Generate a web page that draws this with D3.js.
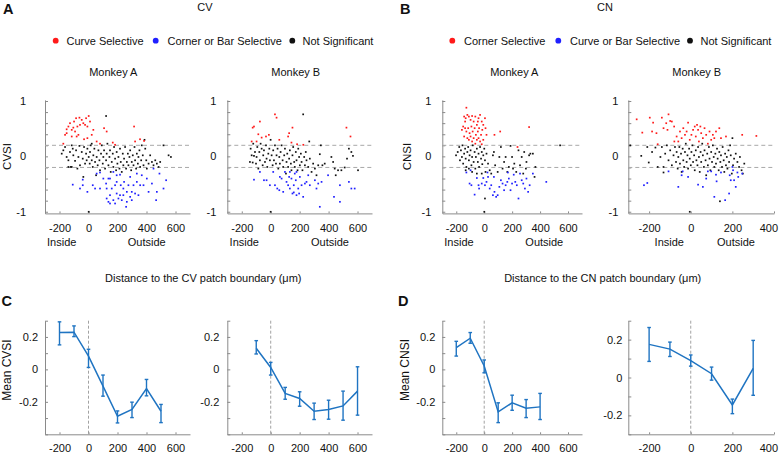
<!DOCTYPE html>
<html><head><meta charset="utf-8">
<script src="https://cdn.jsdelivr.net/npm/d3@7"></script>
<style>body{margin:0;background:#fff}svg{display:block}</style>
</head><body>
<svg id="c" width="779" height="454"></svg>
<script>
// ---------------- DATA ----------------
// Panel A (CV), Monkey A scatter: [distance µm, CVSI]
const cvA_curve = [[-162,0.39],[-151,0.42],[-139,0.54],[-128,0.60],[-116,0.48],[-105,0.52],[-100,0.63],[-86,0.69],[-82,0.36],[-70,0.39],[-63,0.70],[-59,0.57],[-47,0.66],[-36,0.60],[-24,0.57],[-17,0.69],[-8,0.54],[1,0.73],[10,0.63],[22,0.39],[33,0.48],[56,0.27],[79,0.23],[107,0.51],[125,0.45],[167,0.25],[183,0.21],[314,0.54],[321,0.27],[355,0.31],[383,0.28],[-116,0.36],[-93,0.45],[-77,0.54],[-31,0.31],[-8,0.33],[-151,0.49],[-174,0.23]];
const cvA_cornerBar = [[-109,-0.51],[-40,-0.42],[-40,-0.52],[-8,-0.64],[29,-0.52],[56,-0.31],[79,-0.29],[102,-0.40],[121,-0.49],[125,-0.76],[137,-0.82],[148,-0.70],[160,-0.58],[171,-0.79],[183,-0.85],[194,-0.67],[206,-0.76],[217,-0.70],[229,-0.79],[240,-0.58],[245,-0.46],[259,-0.91],[264,-0.82],[275,-0.52],[287,-0.37],[298,-0.64],[310,-0.52],[321,-0.67],[333,-0.46],[344,-0.70],[356,-0.52],[379,-0.52],[402,-0.40],[414,-0.64],[437,-0.49],[448,-0.22],[466,-0.79],[471,-0.64],[489,-0.31],[517,-0.58],[535,-0.43],[171,-0.28],[194,-0.34],[217,-0.33],[148,-0.40],[79,-0.58],[45,-0.58],[-59,-0.58],[240,-0.70],[298,-0.79],[264,-0.64],[287,-0.73],[222,-0.52],[183,-0.52],[137,-0.40],[333,-0.31],[367,-0.34],[194,-0.46],[125,-0.58],[148,-0.85]];
const cvA_ns = [[-185,0.05],[-174,0.11],[-162,0.17],[-151,-0.01],[-139,-0.07],[-128,0.08],[-123,-0.19],[-116,0.2],[-109,0.14],[-105,0.02],[-93,-0.08],[-86,0.11],[-77,-0.22],[-70,-0.01],[-63,0.19],[-59,-0.16],[-47,0.08],[-40,-0.04],[-36,-0.37],[-31,0.17],[-24,-0.13],[-17,0.05],[-13,-0.07],[-8,0.14],[1,-0.01],[8,-0.13],[10,0.08],[15,0.2],[22,-0.07],[29,-0.19],[33,0.02],[40,0.14],[45,-0.10],[52,-0.34],[56,-0.01],[63,-0.16],[68,0.11],[75,-0.07],[79,-0.25],[86,0.05],[91,0.2],[98,-0.13],[102,-0.01],[107,0.11],[114,-0.22],[121,-0.07],[125,0.05],[130,0.23],[137,-0.16],[144,-0.01],[148,0.11],[153,-0.28],[160,-0.10],[167,0.05],[171,-0.19],[176,0.17],[183,-0.04],[190,-0.25],[194,0.08],[199,-0.13],[206,-0.01],[213,-0.22],[217,0.14],[222,-0.10],[229,-0.28],[236,0.05],[240,-0.16],[245,-0.04],[252,0.17],[259,-0.22],[264,-0.10],[271,0.05],[275,-0.16],[282,-0.01],[287,0.11],[294,-0.25],[298,-0.10],[305,0.02],[310,-0.16],[317,0.17],[321,-0.07],[328,-0.22],[333,0.05],[340,-0.13],[344,-0.01],[351,0.11],[356,-0.19],[363,-0.07],[367,0.20],[374,0.02],[379,-0.16],[386,0.30],[391,0.14],[398,-0.07],[402,-0.22],[414,-0.13],[425,0.02],[437,-0.10],[448,-0.16],[460,-0.07],[471,-0.13],[483,-0.19],[494,-0.10],[517,0.20],[552,0.02],[568,-0.01],[121,0.73],[1,-1.0],[22,0.23],[-116,-0.19],[-139,-0.19]];

// Panel A (CV), Monkey B scatter
const cvB_curve = [[-125,0.52],[-116,0.54],[-75,0.63],[-86,0.40],[-63,0.34],[-33,0.36],[-13,0.39],[29,0.76],[40,0.70],[59,0.30],[120,0.36],[150,0.52],[143,0.25],[182,0.22],[225,0.21],[523,0.52],[551,0.36],[-98,0.27],[-132,0.27],[127,0.42]];
const cvB_cornerBar = [[-116,-0.42],[-75,-0.28],[-47,-0.43],[-29,-0.43],[-6,-0.52],[17,-0.28],[29,-0.52],[45,-0.58],[59,-0.61],[63,-0.37],[75,-0.40],[86,-0.64],[98,-0.28],[109,-0.46],[120,-0.52],[127,-0.37],[132,-0.58],[143,-0.40],[150,-0.67],[159,-0.52],[166,-0.31],[173,-0.43],[178,-0.70],[190,-0.58],[196,-0.67],[201,-0.37],[213,-0.52],[224,-0.73],[236,-0.49],[247,-0.46],[259,-0.34],[270,-0.52],[305,-0.43],[316,-0.58],[328,-0.49],[339,-0.91],[351,-0.46],[396,-0.34],[437,-0.73],[478,-0.82],[478,-0.52],[540,-0.46],[557,-0.58],[580,-0.58],[159,-0.65],[132,-0.28],[178,-0.28]];
const cvB_ns = [[-139,0.14],[-132,0.02],[-125,-0.11],[-121,0.23],[-109,0.08],[-102,-0.13],[-98,-0.01],[-93,0.17],[-86,-0.22],[-79,0.08],[-75,-0.07],[-70,0.23],[-63,0.14],[-56,-0.16],[-52,0.02],[-47,0.11],[-40,-0.10],[-33,0.20],[-29,-0.04],[-24,-0.19],[-17,0.05],[-10,0.14],[-6,-0.07],[-1,0.30],[6,0.02],[13,-0.16],[17,0.11],[22,-0.07],[29,0.20],[36,-0.13],[40,0.02],[47,0.14],[52,-0.22],[59,-0.01],[63,-0.13],[68,0.08],[75,0.20],[82,-0.07],[86,-0.19],[93,0.02],[98,0.14],[105,-0.31],[109,-0.10],[114,0.05],[120,-0.19],[127,-0.04],[132,0.11],[139,-0.13],[143,-0.25],[150,0.02],[155,0.17],[162,-0.10],[166,-0.19],[173,0.08],[178,-0.07],[185,-0.25],[190,0.14],[196,-0.01],[201,-0.16],[208,0.05],[213,-0.10],[219,-0.25],[224,0.76],[231,-0.01],[236,-0.16],[242,0.08],[247,-0.07],[259,-0.19],[266,0.27],[270,-0.04],[282,-0.28],[293,-0.13],[305,-0.22],[316,-0.34],[328,-0.16],[339,0.04],[346,0.20],[357,-0.16],[373,-0.13],[419,-0.01],[431,-0.10],[442,-0.22],[449,-0.34],[465,-0.25],[488,-0.25],[511,-0.20],[527,-0.04],[540,0.14],[557,0.08],[568,0.01],[603,-0.25],[-1,-1.0],[-144,-0.10],[-116,0.01]];

// Panel B (CN), Monkey A scatter: [distance µm, CNSI]
const cnA_corner = [[-128,0.88],[-144,0.72],[-133,0.69],[-121,0.75],[-110,0.72],[-98,0.66],[-87,0.73],[-76,0.63],[-64,0.72],[-53,0.57],[-41,0.69],[-30,0.75],[-18,0.63],[-7,0.57],[5,0.69],[-160,0.48],[-151,0.54],[-137,0.51],[-128,0.45],[-115,0.51],[-105,0.42],[-92,0.54],[-83,0.45],[-69,0.51],[-60,0.39],[-46,0.45],[-37,0.51],[-23,0.39],[-14,0.48],[9,0.51],[16,0.39],[-121,0.33],[-110,0.30],[-98,0.36],[-87,0.27],[-76,0.33],[-64,0.23],[-53,0.30],[-41,0.33],[-30,0.27],[-18,0.22],[-7,0.30],[-144,0.36],[-137,0.63],[-46,0.63],[114,0.45],[73,0.39],[321,0.53],[238,0.17]];
const cnA_curveBar = [[-128,-0.29],[-98,-0.25],[-105,-0.49],[-92,-0.52],[-69,-0.69],[-53,-0.39],[-41,-0.52],[-37,-0.58],[-18,-0.49],[-7,-0.39],[5,-0.52],[16,-0.46],[27,-0.37],[39,-0.58],[50,-0.52],[62,-0.70],[73,-0.64],[85,-0.73],[96,-0.70],[108,-0.55],[119,-0.43],[131,-0.49],[142,-0.61],[153,-0.52],[165,-0.46],[176,-0.40],[188,-0.61],[199,-0.49],[211,-0.33],[222,-0.46],[233,-0.52],[245,-0.76],[256,-0.31],[268,-0.43],[279,-0.49],[291,-0.58],[302,-0.40],[314,-0.64],[325,-0.52],[348,-0.31],[444,-0.46],[169,-0.29],[69,-0.37],[23,-0.29]];
const cnA_ns = [[-202,0.02],[-190,0.08],[-179,0.17],[-174,-0.07],[-167,0.11],[-160,-0.01],[-156,0.20],[-151,-0.13],[-144,0.05],[-137,0.14],[-133,-0.04],[-128,-0.19],[-121,0.08],[-115,0.17],[-110,-0.07],[-105,0.02],[-98,0.11],[-92,-0.16],[-87,-0.01],[-83,0.20],[-76,-0.10],[-69,0.08],[-64,-0.22],[-60,-0.01],[-53,0.14],[-46,-0.10],[-41,0.05],[-37,-0.19],[-30,0.17],[-23,-0.04],[-18,0.08],[-14,-0.14],[-7,0.02],[0,0.14],[5,-0.07],[9,-0.28],[16,0.05],[27,-0.13],[39,-0.25],[50,-0.31],[62,0.02],[69,0.08],[78,-0.16],[96,-0.28],[108,-0.01],[119,0.17],[131,-0.22],[142,-0.10],[153,-0.01],[165,-0.28],[176,-0.19],[188,0.19],[199,-0.01],[206,-0.22],[215,-0.13],[229,-0.28],[245,0.11],[256,-0.16],[268,-0.01],[279,-0.31],[286,0.08],[298,-0.22],[302,-0.10],[321,0.02],[330,0.05],[348,0.05],[360,-0.37],[366,-0.19],[543,0.20],[0,-1.0],[5,-0.76],[-18,-0.31],[-53,-0.31],[-87,-0.28],[-110,-0.22],[-133,-0.25]];

// Panel B (CN), Monkey B scatter
const cnB_corner = [[-260,0.67],[-233,0.43],[-197,0.70],[-186,0.45],[-181,0.61],[-165,0.42],[-139,0.70],[-131,0.51],[-118,0.60],[-112,0.48],[-107,0.76],[-99,0.64],[-91,0.63],[-80,0.54],[-68,0.36],[-60,0.27],[-52,0.45],[-44,0.33],[-36,0.51],[-28,0.39],[-20,0.45],[-13,0.61],[-5,0.30],[3,0.39],[11,0.48],[19,0.54],[24,0.36],[30,0.57],[35,0.48],[39,0.27],[46,0.54],[50,0.42],[58,0.33],[66,0.51],[74,0.39],[82,0.23],[90,0.45],[98,0.30],[106,0.39],[113,0.33],[121,0.45],[137,0.51],[145,0.33],[169,0.36],[247,0.39],[315,0.37],[-79,0.27],[-159,0.22]];
const cnB_curveBar = [[-225,-0.52],[-209,-0.48],[-107,-0.27],[-60,-0.55],[-44,-0.34],[-39,-0.27],[-13,-0.37],[35,-0.51],[58,-0.55],[74,-0.40],[98,-0.27],[113,-0.73],[121,-0.33],[124,-0.45],[145,-0.29],[165,-0.79],[184,-0.67],[187,-0.34],[192,-0.43],[200,-0.19],[203,-0.25],[208,-0.43],[216,-0.55],[224,-0.29],[228,-0.37],[247,-0.31],[82,-0.27]];
const cnB_ns = [[-291,0.20],[-238,0.01],[-209,0.17],[-202,-0.11],[-186,0.08],[-170,0.16],[-146,-0.01],[-139,0.17],[-131,-0.29],[-123,0.05],[-115,0.20],[-107,-0.07],[-99,0.11],[-91,-0.16],[-83,0.02],[-76,0.17],[-71,-0.10],[-68,0.08],[-63,-0.22],[-60,-0.01],[-55,0.17],[-52,-0.13],[-47,0.05],[-44,-0.28],[-39,0.14],[-36,-0.07],[-32,-0.19],[-28,0.08],[-24,0.23],[-20,-0.10],[-16,0.02],[-13,-0.22],[-8,0.14],[-5,-0.04],[0,-0.16],[3,0.08],[8,0.20],[11,-0.10],[16,0.02],[19,-0.25],[24,0.11],[27,-0.07],[32,-0.16],[35,0.17],[39,-0.01],[43,-0.28],[47,0.08],[50,-0.10],[55,0.23],[58,0.02],[63,-0.19],[66,0.11],[71,-0.07],[74,-0.34],[79,0.05],[82,-0.16],[87,0.17],[90,-0.04],[94,-0.25],[98,0.08],[102,-0.10],[106,0.20],[110,-0.01],[113,-0.19],[118,0.05],[121,-0.13],[126,0.14],[129,-0.04],[134,-0.25],[137,0.08],[142,-0.10],[145,0.02],[150,-0.19],[153,0.17],[158,-0.07],[161,-0.28],[165,0.05],[169,-0.16],[173,-0.01],[176,-0.22],[181,0.11],[184,-0.10],[189,0.20],[192,0.02],[197,-0.31],[200,0.33],[203,-0.16],[208,-0.04],[216,0.05],[224,-0.10],[232,-0.19],[236,-0.01],[244,-0.25],[250,-0.31],[257,-0.13],[-5,-1.0],[140,-0.81],[-131,-0.19],[-159,-0.19]];

// Panel C: mean CVSI vs distance
const cvA_dist = [-200,-100,0,100,200,300,400,500];
const cvA_mean = [0.227,0.229,0.082,-0.103,-0.289,-0.247,-0.118,-0.258];
const cvA_lo   = [0.151,0.202,0.012,-0.165,-0.330,-0.297,-0.163,-0.328];
const cvA_hi   = [0.293,0.268,0.124,-0.035,-0.256,-0.202,-0.062,-0.216];
const cvB_dist = [-100,0,100,200,300,400,500,600];
const cvB_mean = [0.130,0.012,-0.148,-0.179,-0.258,-0.247,-0.225,-0.134];
const cvB_lo   = [0.095,-0.035,-0.184,-0.227,-0.309,-0.307,-0.313,-0.282];
const cvB_hi   = [0.177,0.043,-0.111,-0.138,-0.208,-0.190,-0.134,0.016];
// Panel D: mean CNSI vs distance
const cnA_dist = [-200,-100,0,100,200,300,400];
const cnA_mean = [0.134,0.192,0.021,-0.262,-0.206,-0.239,-0.231];
const cnA_lo   = [0.082,0.161,-0.021,-0.328,-0.252,-0.297,-0.309];
const cnA_hi   = [0.173,0.227,0.058,-0.206,-0.159,-0.186,-0.148];
const cnB_dist = [-200,-100,0,100,200,300];
const cnB_mean = [0.175,0.150,0.089,0.020,-0.145,0.048];
const cnB_lo   = [0.085,0.111,0.060,-0.014,-0.191,-0.094];
const cnB_hi   = [0.264,0.187,0.119,0.055,-0.114,0.196];

// Ticks / thresholds
const siThresholds = [0.2, -0.2];
const scatterYTicks = [-1,-0.8,-0.6,-0.4,-0.2,0,0.2,0.4,0.6,0.8,1];
const scatterYLabels = [-1,0,1];
const xTicks700 = [-200,0,200,400,600];
const xTicks400 = [-200,0,200,400];
const meanYTicksA = [-0.4,-0.3,-0.2,-0.1,0,0.1,0.2,0.3];
const meanYTicksB = [-0.3,-0.2,-0.1,0,0.1,0.2,0.3];
const meanYLabels = [-0.2,0,0.2];

// ---------------- DRAWING ----------------
const svg = d3.select('#c');
const FONT = '"Liberation Sans", Arial, Helvetica, sans-serif';
const AX = '#8a8a8a';
const RED = '#ff1a1a', BLUE = '#2020ff', BLACK = '#111';
const LINE = '#1f74c2';

function text(x, y, s, o = {}) {
  const t = svg.append('text').attr('x', x).attr('y', y).text(s)
    .attr('font-family', FONT).attr('font-size', o.size || 11)
    .attr('fill', o.fill || '#111')
    .attr('text-anchor', o.anchor || 'start');
  if (o.bold) t.attr('font-weight', 'bold');
  if (o.rot) t.attr('transform', `rotate(-90,${x},${y})`).attr('dominant-baseline', 'central');
  return t;
}
const near = (arr, d) => arr.some(v => Math.abs(v - d) < 1e-9);
const fmt = d => String(+d.toFixed(2));

function styleAxis(g) {
  g.select('.domain').attr('stroke', AX);
  g.selectAll('.tick line').attr('stroke', AX);
  g.selectAll('.tick text').attr('font-family', FONT).attr('font-size', 11).attr('fill', '#111');
}
// keep a tick label that would run past the right edge inside the picture
function keepInside(g) {
  g.selectAll('.tick text').each(function () {
    const b = this.getBBox();
    const m = this.parentNode.getCTM();
    const right = m.e + b.x + b.width;
    if (right > 778) d3.select(this).attr('dx', 778 - right);
  });
}

function scatter(L, red, blue, black) {
  const x = d3.scaleLinear().domain(L.xd).range([L.x0, L.x1]);
  const y = d3.scaleLinear().domain([-1.03, 1.02]).range([213.4, 99.9]);
  const g = svg.append('g');
  g.append('g').attr('transform', `translate(0,213.4)`)
    .call(d3.axisBottom(x).tickValues(L.xt).tickFormat(fmt).tickSizeInner(-2).tickSizeOuter(0).tickPadding(10.5))
    .call(styleAxis).call(keepInside);
  g.append('g').attr('transform', `translate(${L.x0},0)`)
    .call(d3.axisLeft(y).tickValues(scatterYTicks).tickFormat(d => near(scatterYLabels, d) ? fmt(d) : '')
      .tickSizeInner(-3).tickSizeOuter(0).tickPadding(L.gap))
    .call(styleAxis);
  g.selectAll('line.thr').data(siThresholds).join('line').attr('class', 'thr')
    .attr('x1', L.x0).attr('x2', L.x1).attr('y1', d => y(d)).attr('y2', d => y(d))
    .attr('stroke', '#a8a8a8').attr('stroke-width', 1).attr('stroke-dasharray', '4,3');
  const pts = [[black, BLACK], [red, RED], [blue, BLUE]];
  pts.forEach(([arr, col]) => {
    g.append('g').selectAll('rect').data(arr).join('rect')
      .attr('x', d => x(d[0]) - 0.8).attr('y', d => y(d[1]) - 0.8)
      .attr('width', 1.7).attr('height', 1.7).attr('fill', col);
  });
}

function meanPlot(L, dist, mean, lo, hi) {
  const x = d3.scaleLinear().domain(L.xd).range([L.x0, L.x1]);
  const y = d3.scaleLinear().domain(L.yd).range([434.3, 320.7]);
  const g = svg.append('g');
  g.append('g').attr('transform', `translate(0,434.3)`)
    .call(d3.axisBottom(x).tickValues(L.xt).tickFormat(fmt).tickSizeInner(-2).tickSizeOuter(0).tickPadding(10.3))
    .call(styleAxis).call(keepInside);
  g.append('g').attr('transform', `translate(${L.x0},0)`)
    .call(d3.axisLeft(y).tickValues(L.yt).tickFormat(d => near(meanYLabels, d) ? fmt(d) : '')
      .tickSizeInner(-3).tickSizeOuter(0).tickPadding(L.gap))
    .call(styleAxis);
  g.append('line').attr('x1', x(0)).attr('x2', x(0)).attr('y1', 320.7).attr('y2', 434.3)
    .attr('stroke', '#8a8a8a').attr('stroke-width', 0.8).attr('stroke-dasharray', '3,2');
  const idx = d3.range(dist.length);
  g.append('path').datum(idx)
    .attr('d', d3.line().x(i => x(dist[i])).y(i => y(mean[i])))
    .attr('fill', 'none').attr('stroke', LINE).attr('stroke-width', 1.5);
  const eb = g.append('g').attr('stroke', LINE).attr('stroke-width', 1.4);
  eb.selectAll('line.v').data(idx).join('line').attr('class', 'v')
    .attr('x1', i => x(dist[i])).attr('x2', i => x(dist[i]))
    .attr('y1', i => y(lo[i])).attr('y2', i => y(hi[i]));
  eb.selectAll('line.lo').data(idx).join('line').attr('class', 'lo')
    .attr('x1', i => x(dist[i]) - 1.8).attr('x2', i => x(dist[i]) + 1.8)
    .attr('y1', i => y(lo[i])).attr('y2', i => y(lo[i]));
  eb.selectAll('line.hi').data(idx).join('line').attr('class', 'hi')
    .attr('x1', i => x(dist[i]) - 1.8).attr('x2', i => x(dist[i]) + 1.8)
    .attr('y1', i => y(hi[i])).attr('y2', i => y(hi[i]));
}

// Panel letters and titles
text(3, 13.5, 'A', { size: 14.5, bold: true });
text(400, 13.5, 'B', { size: 14.5, bold: true });
text(1.5, 305.5, 'C', { size: 14.5, bold: true });
text(398, 306, 'D', { size: 14.5, bold: true });
text(205, 11, 'CV', { anchor: 'middle' });
text(605, 11, 'CN', { anchor: 'middle' });

// Legends
function legend(items) {
  items.forEach(it => {
    svg.append('circle').attr('cx', it.cx).attr('cy', 40.7).attr('r', 2.9).attr('fill', it.col);
    text(it.tx, 44.6, it.label);
  });
}
legend([
  { cx: 55.7, tx: 66.5, col: RED, label: 'Curve Selective' },
  { cx: 155.7, tx: 167.5, col: BLUE, label: 'Corner or Bar Selective' },
  { cx: 292.3, tx: 302.5, col: BLACK, label: 'Not Significant' }
]);
legend([
  { cx: 452.3, tx: 464, col: RED, label: 'Corner Selective' },
  { cx: 558.3, tx: 570, col: BLUE, label: 'Curve or Bar Selective' },
  { cx: 690, tx: 700.5, col: BLACK, label: 'Not Significant' }
]);

text(113.3, 76.2, 'Monkey A', { anchor: 'middle' });
text(295.7, 76.2, 'Monkey B', { anchor: 'middle' });
text(514.3, 76.2, 'Monkey A', { anchor: 'middle' });
text(696.7, 76.2, 'Monkey B', { anchor: 'middle' });

// Scatter panels
scatter({ x0: 45, x1: 190, xd: [-300, 700], xt: xTicks700, gap: 19 }, cvA_curve, cvA_cornerBar, cvA_ns);
scatter({ x0: 227.3, x1: 372, xd: [-300, 700], xt: xTicks700, gap: 11 }, cvB_curve, cvB_cornerBar, cvB_ns);
scatter({ x0: 442.3, x1: 582, xd: [-300, 700], xt: xTicks700, gap: 11 }, cnA_corner, cnA_curveBar, cnA_ns);
scatter({ x0: 628.3, x1: 774, xd: [-300, 400], xt: xTicks400, gap: 10 }, cnB_corner, cnB_curveBar, cnB_ns);

text(7, 156.5, 'CVSI', { anchor: 'middle', rot: true, size: 11.5 });
text(407, 156.5, 'CNSI', { anchor: 'middle', rot: true, size: 11.5 });

[[61.7, 'Inside'], [146.7, 'Outside'], [244.3, 'Inside'], [330, 'Outside'],
 [459, 'Inside'], [544.3, 'Outside'], [669.3, 'Inside'], [736, 'Outside']]
  .forEach(([x, s]) => text(x, 246.2, s, { anchor: 'middle' }));

text(203.3, 281.5, 'Distance to the CV patch boundary (\u03bcm)', { anchor: 'middle' });
text(602.7, 281.5, 'Distance to the CN patch boundary (\u03bcm)', { anchor: 'middle' });

// Mean plots
meanPlot({ x0: 45, x1: 190, xd: [-300, 700], xt: xTicks700, yd: [-0.4, 0.3], yt: meanYTicksA, gap: 7 }, cvA_dist, cvA_mean, cvA_lo, cvA_hi);
meanPlot({ x0: 227.3, x1: 372, xd: [-300, 700], xt: xTicks700, yd: [-0.4, 0.3], yt: meanYTicksA, gap: 8 }, cvB_dist, cvB_mean, cvB_lo, cvB_hi);
meanPlot({ x0: 442.3, x1: 582, xd: [-300, 700], xt: xTicks700, yd: [-0.4, 0.3], yt: meanYTicksA, gap: 7 }, cnA_dist, cnA_mean, cnA_lo, cnA_hi);
meanPlot({ x0: 628.3, x1: 774, xd: [-300, 400], xt: xTicks400, yd: [-0.3, 0.3], yt: meanYTicksB, gap: 6 }, cnB_dist, cnB_mean, cnB_lo, cnB_hi);

text(7, 370, 'Mean CVSI', { anchor: 'middle', rot: true, size: 12 });
text(405, 370, 'Mean CNSI', { anchor: 'middle', rot: true, size: 12 });
</script>
</body></html>
